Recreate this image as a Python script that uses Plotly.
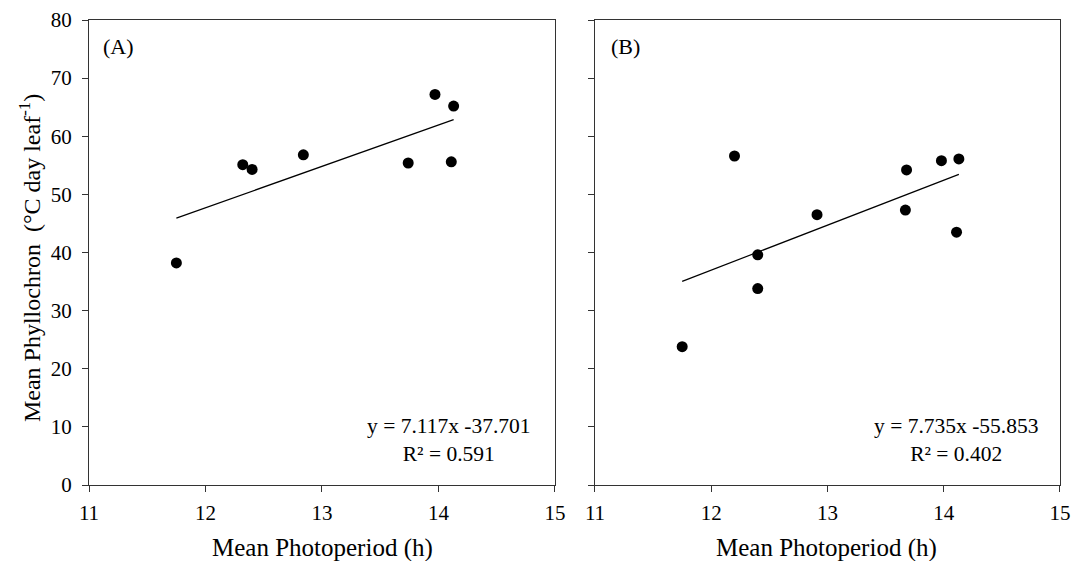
import plotly.graph_objects as go

# Panel A data
xa = [11.75, 12.32, 12.40, 12.84, 13.74, 13.97, 14.11, 14.13]
ya = [38.2, 55.1, 54.3, 56.8, 55.4, 67.2, 55.6, 65.2]
slope_a, icpt_a, r2_a = 7.117, -37.701, 0.591

# Panel B data
xb = [11.75, 12.20, 12.40, 12.40, 12.91, 13.67, 13.68, 13.98, 14.11, 14.13]
yb = [23.8, 56.6, 39.6, 33.8, 46.5, 47.3, 54.2, 55.8, 43.5, 56.1]
slope_b, icpt_b, r2_b = 7.735, -55.853, 0.402

x_ticks = [11, 12, 13, 14, 15]
y_ticks = [0, 10, 20, 30, 40, 50, 60, 70, 80]

x_title = "Mean Photoperiod (h)"
y_title = "Mean Phyllochron  (°C day leaf<sup>-1</sup>)"

FONT = "Liberation Serif, Times New Roman, serif"

fig = go.Figure()

def add_panel(xs, ys, slope, icpt, xaxis, yaxis):
    fig.add_trace(go.Scatter(x=xs, y=ys, mode="markers",
                             marker=dict(size=11, color="black"),
                             xaxis=xaxis, yaxis=yaxis, showlegend=False))
    x0, x1 = min(xs), max(xs)
    fig.add_trace(go.Scatter(x=[x0, x1], y=[slope * x0 + icpt, slope * x1 + icpt],
                             mode="lines", line=dict(color="black", width=1.2),
                             xaxis=xaxis, yaxis=yaxis, showlegend=False))

add_panel(xa, ya, slope_a, icpt_a, "x", "y")
add_panel(xb, yb, slope_b, icpt_b, "x2", "y2")

axis_common = dict(showgrid=False, zeroline=False, showline=True, mirror=True,
                   automargin=False, ticklabeloverflow="allow",
                   linecolor="#333333", linewidth=1.3, ticks="outside", ticklen=6,
                   tickwidth=1.3, tickcolor="#333333",
                   tickfont=dict(family=FONT, size=21, color="black"))

fig.update_layout(
    width=1073, height=561,
    paper_bgcolor="white", plot_bgcolor="white",
    margin=dict(l=89, r=13, t=20, b=76, autoexpand=False),
    font=dict(family=FONT, color="black"),
    xaxis=dict(domain=[0, 0.4799], range=[11, 15], tickvals=x_ticks,
               ticklabelstandoff=3, **axis_common),
    yaxis=dict(range=[0, 80], tickvals=y_ticks,
               ticklabelstandoff=6, **axis_common),
    xaxis2=dict(domain=[0.5211, 1], range=[11, 15], tickvals=x_ticks, anchor="y2",
                ticklabelstandoff=3, **axis_common),
    yaxis2=dict(range=[0, 80], tickvals=y_ticks, anchor="x2", showticklabels=False,
                **axis_common),
)

title_font = dict(family=FONT, size=25, color="black")
fig.add_annotation(x=0.24, y=-0.135, xref="paper", yref="paper", text=x_title,
                   showarrow=False, xanchor="center", yanchor="middle", font=title_font)
fig.add_annotation(x=0.760, y=-0.135, xref="paper", yref="paper", text=x_title,
                   showarrow=False, xanchor="center", yanchor="middle", font=title_font)
fig.add_annotation(x=-0.0608, y=0.488, xref="paper", yref="paper", text=y_title,
                   showarrow=False, xanchor="center", yanchor="middle", textangle=-90,
                   font=dict(family=FONT, size=24, color="black"))

ann_font = dict(family=FONT, size=21.5, color="black")
fig.add_annotation(x=11.1, y=75.4, xref="x", yref="y", text="(A)", showarrow=False,
                   xanchor="left", yanchor="middle", font=dict(family=FONT, size=22, color="black"))
fig.add_annotation(x=11.12, y=75.4, xref="x2", yref="y2", text="(B)", showarrow=False,
                   xanchor="left", yanchor="middle", font=dict(family=FONT, size=22, color="black"))
fig.add_annotation(x=14.09, y=7.8, xref="x", yref="y",
                   text=f"y = {slope_a}x {icpt_a}<br>R² = {r2_a}", showarrow=False,
                   align="center", xanchor="center", yanchor="middle", font=ann_font)
fig.add_annotation(x=14.105, y=7.8, xref="x2", yref="y2",
                   text=f"y = {slope_b}x {icpt_b}<br>R² = {r2_b}", showarrow=False,
                   align="center", xanchor="center", yanchor="middle", font=ann_font)

# remove the page's default body margin so the figure sits at the top-left corner
fig.write_html("out.html",
               config={"displayModeBar": False},
               post_script="document.body.style.margin='0';document.body.style.overflow='hidden';")
